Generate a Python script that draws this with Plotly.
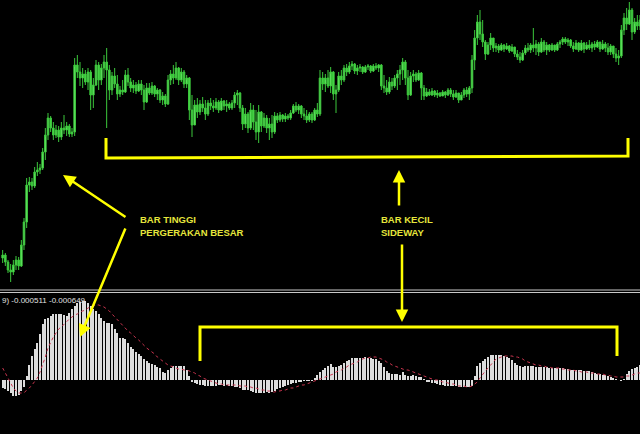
import plotly.graph_objects as go

# ---------------- data ----------------
opens = [42,45,38,30,28,35,40,34,55,78,
115,118,114,128,130,132,148,165,182,172,
165,170,163,172,170,174,166,168,235,228,
222,226,218,228,205,215,235,220,232,238,
230,210,224,216,206,210,208,225,218,212,
215,209,216,210,198,212,207,214,206,210,
200,204,196,220,226,222,232,220,228,216,
222,190,175,195,188,196,192,186,197,194,
192,198,190,199,194,196,192,197,205,207,
192,176,186,172,190,178,168,188,174,182,
172,176,168,184,180,185,181,184,182,187,
194,190,194,186,184,180,186,180,190,186,
222,216,222,214,228,206,210,224,220,232,
228,234,236,229,232,233,228,233,234,229,
234,232,235,214,212,208,218,214,222,226,
230,238,222,205,224,226,220,227,212,204,
208,205,209,205,207,204,208,205,210,206,
203,207,200,205,210,206,212,240,262,278,
266,258,246,255,262,252,254,250,255,251,
254,249,253,246,243,240,247,252,250,255,
252,256,248,258,250,255,250,255,250,256,
258,261,258,260,254,251,257,250,257,251,
255,252,256,253,258,251,256,252,248,254,
246,242,244,270,282,276,290,268,278,274]

highs = [50,47,40,36,40,44,43,60,82,122,
123,122,133,138,136,152,172,187,184,178,
175,174,178,185,178,176,172,242,245,238,
232,230,232,230,222,240,238,236,245,252,
235,228,232,225,214,220,230,232,222,220,
218,220,220,215,217,217,218,215,212,211,
208,206,225,230,235,238,233,232,230,225,
223,205,200,202,200,203,200,200,202,200,
202,200,202,200,200,198,200,208,210,208,
195,192,188,197,195,190,195,189,187,185,
182,185,188,187,188,186,187,186,190,196,
198,196,195,192,190,188,188,192,197,230,
228,226,230,233,229,215,228,230,235,236,
238,239,237,235,236,234,235,236,235,236,
237,236,236,225,220,223,222,225,230,235,
242,240,230,228,230,228,230,228,215,212,
211,212,210,210,208,210,209,212,212,210,
210,207,208,212,213,214,245,270,285,290,
280,260,258,267,262,257,256,257,256,257,
255,256,253,250,248,250,255,257,257,272,
260,258,262,260,258,256,257,255,258,260,
263,263,262,261,258,260,258,260,258,258,
260,258,259,260,258,260,258,257,256,254,
252,250,275,287,292,298,292,282,285,285]

lows = [37,34,27,18,25,30,30,33,50,72,
108,110,112,124,126,130,140,160,168,160,
162,158,160,166,164,163,163,164,222,214,
212,215,210,190,192,214,210,215,222,172,
200,205,212,200,203,205,207,214,208,207,
206,208,205,190,197,205,205,203,200,197,
195,193,195,215,216,220,215,218,212,212,
180,163,175,182,185,188,180,184,190,188,
190,187,189,190,188,190,190,192,195,188,
170,172,167,170,170,160,157,168,172,167,
160,162,166,177,178,178,178,180,180,186,
188,186,182,180,177,178,177,179,183,184,
210,208,212,207,200,187,208,215,218,224,
226,230,226,225,228,226,227,230,227,228,
230,228,210,207,205,206,210,212,210,215,
220,215,200,204,218,218,219,200,200,203,
204,204,203,202,203,204,202,204,203,200,
202,197,200,202,203,200,207,230,255,260,
253,240,245,250,248,248,247,249,248,250,
247,248,243,240,237,239,245,248,247,248,
245,244,247,248,245,248,249,248,249,252,
255,256,254,252,248,250,248,249,247,250,
250,248,250,252,248,250,248,245,245,242,
238,235,242,265,270,275,260,266,270,270]

closes = [45,38,30,28,35,40,34,55,78,115,
118,114,128,130,132,148,165,182,172,165,
170,163,172,170,174,166,168,235,228,222,
226,218,228,205,215,235,220,232,238,230,
210,224,216,206,210,208,225,218,212,215,
209,216,210,198,212,207,214,206,210,200,
204,196,220,226,222,232,220,228,216,222,
190,175,195,188,196,192,186,197,194,192,
198,190,199,194,196,192,197,205,207,192,
176,186,172,190,178,168,188,174,182,172,
176,168,184,180,185,181,184,182,187,194,
190,194,186,184,180,186,180,190,186,222,
216,222,214,228,206,210,224,220,232,228,
234,236,229,232,233,228,233,234,229,234,
232,235,214,212,208,218,214,222,226,230,
238,222,205,224,226,220,227,212,204,208,
205,209,205,207,204,208,205,210,206,203,
207,200,205,210,206,212,240,262,278,266,
258,246,255,262,252,254,250,255,251,254,
249,253,246,243,240,247,252,250,255,252,
256,248,258,250,255,250,255,250,256,258,
261,258,260,254,251,257,250,257,251,255,
252,256,253,258,251,256,252,248,254,246,
242,244,270,282,276,290,268,278,274,280]

macd_hist = [-8,-9,-11,-13,-16,-16,-15,-11,-7,4,
15,24,31,37,46,56,61,62,64,66,
66,66,66,65,64,67,71,74,77,78,
79,79,77,74,71,69,66,62,59,57,
57,56,51,47,42,42,41,37,33,31,
28,26,24,21,19,17,16,15,13,12,
8,7,10,12,14,14,14,14,14,10,
4,-2,-3,-4,-5,-5,-6,-6,-6,-6,
-6,-5,-5,-6,-5,-6,-6,-7,-7,-8,
-10,-10,-10,-11,-12,-13,-13,-13,-13,-12,
-13,-12,-11,-9,-8,-7,-6,-5,-4,-3,
-3,-2,-2,-1,-1,-1,-1,2,5,8,
10,12,14,16,13,13,14,15,17,19,
20,22,22,22,22,22,23,22,22,21,
21,19,17,13,9,7,6,6,6,5,
8,5,4,4,5,4,3,3,1,-2,
-2,-3,-3,-4,-5,-5,-6,-6,-6,-6,
-6,-7,-7,-7,-7,-7,-6,4,14,17,
19,21,23,25,25,25,25,25,24,23,
22,20,17,15,14,13,14,14,14,14,
13,13,13,13,13,12,12,12,12,12,
12,11,11,10,10,10,10,10,9,9,
9,8,7,6,6,5,5,4,3,2,
1,0,-1,1,6,9,11,12,13,15]

macd_signal = [12,7,2,-3,-8,-11,-13,-13,-13,-10,
-8,-5,-2,2,8,15,23,32,38,43,
47,51,53,56,59,61,63,65,66,68,
69,70,72,73,74,75,75,74,73,71,
69,66,63,60,58,55,52,49,47,44,
42,40,37,34,32,30,28,26,23,21,
19,17,15,14,13,12,11,11,10,10,
9,8,7,5,4,2,1,0,-1,-2,
-3,-4,-4,-5,-5,-5,-5,-5,-5,-6,
-6,-6,-7,-7,-8,-8,-9,-10,-10,-11,
-11,-12,-12,-11,-11,-10,-10,-9,-8,-8,
-7,-6,-5,-5,-4,-3,-2,-1,0,1,
2,3,4,5,6,8,9,10,12,13,
15,16,17,18,20,21,22,22,23,23,
23,22,21,20,18,17,15,14,13,12,
11,10,10,9,8,7,6,5,4,3,
2,1,0,0,-1,-2,-2,-3,-4,-4,
-5,-6,-6,-6,-7,-7,-6,-4,-2,2,
6,9,12,15,18,21,22,23,24,24,
24,24,23,23,22,21,19,18,17,16,
15,15,14,14,13,13,12,12,12,12,
11,11,10,10,10,9,9,8,8,8,
7,7,7,6,6,6,5,5,4,4,
3,3,3,3,4,4,5,6,7,7]

indicator_label = "9) -0.000511 -0.000649"
note_left = ["BAR TINGGI", "PERGERAKAN BESAR"]
note_right = ["BAR KECIL", "SIDEWAY"]

bars = list(range(len(closes)))

# ---------------- helpers (layout positions in screen pixels) ----------------
W, H = 640, 434
def px(x):
    return x / W
def py(y):
    return 1 - y / H

YEL = "#ffff00"
TXT = "#e6e63c"

fig = go.Figure()

fig.add_trace(go.Candlestick(
    x=bars, open=opens, high=highs, low=lows, close=closes,
    increasing=dict(line=dict(color="#3cc83c", width=1), fillcolor="#6ee86e"),
    decreasing=dict(line=dict(color="#3cc83c", width=1), fillcolor="#4cd84c"),
    whiskerwidth=0, showlegend=False, hoverinfo="skip",
    xaxis="x", yaxis="y"))

fig.add_trace(go.Bar(
    x=bars, y=macd_hist, width=0.42,
    marker=dict(color="#dcdcdc", line=dict(width=0)),
    showlegend=False, hoverinfo="skip", xaxis="x2", yaxis="y2"))

fig.add_trace(go.Scatter(
    x=bars, y=macd_signal, mode="lines",
    line=dict(color="#c8344e", width=1, dash="dot"),
    showlegend=False, hoverinfo="skip", xaxis="x2", yaxis="y2"))

shapes = []
# separator double line
for yy in (290, 292.5):
    shapes.append(dict(type="line", xref="paper", yref="paper",
                       x0=0, x1=1, y0=py(yy), y1=py(yy),
                       line=dict(color="#c8c8c8", width=1)))
# price bracket
shapes.append(dict(type="path", xref="paper", yref="paper",
                   path=f"M {px(106)},{py(138)} L {px(106)},{py(158)} L {px(628)},{py(156)} L {px(628)},{py(138)}",
                   line=dict(color=YEL, width=3)))
# indicator bracket
shapes.append(dict(type="path", xref="paper", yref="paper",
                   path=f"M {px(200)},{py(361)} L {px(200)},{py(327)} L {px(617)},{py(327)} L {px(617)},{py(356)}",
                   line=dict(color=YEL, width=3)))

annotations = []
def arrow(tx, ty, hx, hy):
    annotations.append(dict(xref="paper", yref="paper", x=px(hx), y=py(hy),
                            ax=tx - hx, ay=ty - hy, axref="pixel", ayref="pixel",
                            text="", showarrow=True, arrowhead=2, arrowsize=1,
                            arrowwidth=2.5, arrowcolor=YEL, standoff=0, startstandoff=0))
arrow(127, 218, 63, 175)
arrow(126, 227, 80, 337)
arrow(399, 207, 399, 170)
arrow(402, 243, 402, 322)

def label(text, x, y, size=9.5, color=TXT, bold=True):
    t = f"<b>{text}</b>" if bold else text
    annotations.append(dict(xref="paper", yref="paper", x=px(x), y=py(y),
                            xanchor="left", yanchor="middle", text=t, showarrow=False,
                            font=dict(family="Liberation Sans", size=size, color=color)))
label(note_left[0], 138, 219)
label(note_left[1], 138, 233)
label(note_right[0], 379, 219)
label(note_right[1], 379, 233)
label(indicator_label, 0, 300, size=8, color="#e0e0e0", bold=False)

fig.update_layout(
    width=W, height=H, margin=dict(l=0, r=0, t=0, b=0),
    paper_bgcolor="black", plot_bgcolor="black",
    shapes=shapes, annotations=annotations, bargap=0, boxgap=0.15,
    xaxis=dict(domain=[0, 1], range=[-1, 239], visible=False,
               rangeslider=dict(visible=False), anchor="y"),
    yaxis=dict(domain=[1 - 289 / H, 1], range=[11, 300], visible=False, anchor="x"),
    xaxis2=dict(domain=[0, 1], range=[-1, 239], visible=False, anchor="y2", matches="x"),
    yaxis2=dict(domain=[0, 140 / H], range=[-54, 86], visible=False, anchor="x2",
                zeroline=False),
)

fig.write_html("out.html", config={"displayModeBar": False},
               post_script="document.body.style.margin='0';document.body.style.background='black';")
